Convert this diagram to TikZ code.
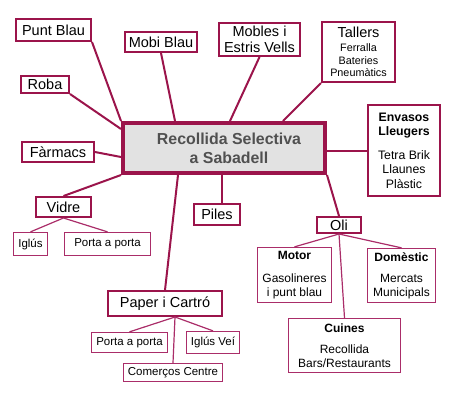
\documentclass[tikz,border=0pt]{standalone}
\usepackage{fontspec}
\setmainfont{Liberation Sans}
\usepackage{tikz}
\usetikzlibrary{calc}
\definecolor{mapred}{RGB}{155,20,75}
\definecolor{subred}{RGB}{170,45,105}
\definecolor{hubgray}{RGB}{226,226,226}
\definecolor{hubtext}{RGB}{80,80,80}
\tikzstyle{hub}=[draw=mapred,line width=4pt,fill=hubgray,text=hubtext,font=\fontsize{15.9}{19}\selectfont\bfseries,align=center,inner sep=0pt]
\tikzstyle{topic}=[draw=mapred,line width=2pt,fill=white,font=\fontsize{14.5}{16}\selectfont,align=center,inner sep=0pt]
\tikzstyle{leaf}=[draw=subred,line width=1.3pt,fill=white,font=\fontsize{11.5}{13.5}\selectfont,align=center,inner sep=0pt]
\tikzstyle{info}=[draw=subred,line width=1.3pt,fill=white,font=\fontsize{12}{13.5}\selectfont,align=center,inner sep=0pt]
\tikzstyle{trunk}=[draw=mapred,line width=2pt]
\tikzstyle{twig}=[draw=subred,line width=1.2pt]

\begin{document}
\begin{tikzpicture}[x=1pt,y=-1pt]
\useasboundingbox (0,0) rectangle (450,400);
\node[hub,minimum width=202,minimum height=50] (central) at (224,148) {\hspace*{10pt}Recollida Selectiva\\\hspace*{10pt}a Sabadell};
\node[topic,minimum width=75,minimum height=22] (punt) at (53.5,30) {Punt Blau};
\node[topic,minimum width=72,minimum height=20] (mobi) at (161,42) {Mobi Blau};
\node[topic,minimum width=81,minimum height=33] (mobles) at (259.5,39.5) {Mobles i\\Estris Vells};
\node[topic,minimum width=73,minimum height=60,font=\fontsize{10.8}{12.5}\selectfont] (tallers) at (358.5,52) {{\fontsize{14.5}{16}\selectfont Tallers}\\[2pt]Ferralla\\Bateries\\Pneumàtics};
\node[topic,minimum width=48,minimum height=17] (roba) at (45,84.5) {Roba};
\node[topic,minimum width=72,minimum height=20] (farmacs) at (58,152) {Fàrmacs};
\node[topic,minimum width=72,minimum height=91,font=\fontsize{12.3}{14.5}\selectfont] (envasos) at (404,150.5) {\textbf{Envasos}\\\textbf{Lleugers}\\[9pt]Tetra Brik\\Llaunes\\Plàstic};
\node[topic,minimum width=55,minimum height=20] (vidre) at (63.5,207) {Vidre};
\node[topic,minimum width=46,minimum height=21] (piles) at (217,214.5) {Piles};
\node[topic,minimum width=44,minimum height=16] (oli) at (339,225) {Oli};
\node[topic,minimum width=114,minimum height=25] (paper) at (165,303.5) {Paper i Cartró};
% vidre
\node[leaf,minimum width=34,minimum height=23] (vidre_iglus) at (30.5,244) {Iglús};
\node[leaf,minimum width=86,minimum height=23] (vidre_porta) at (107.5,244) {Porta a porta};
% paper i cartro
\node[leaf,minimum width=76,minimum height=20] (paper_porta) at (129.5,342.5) {Porta a porta};
\node[leaf,minimum width=53,minimum height=22] (paper_iglus) at (213,342.5) {Iglús Veí};
\node[leaf,minimum width=99,minimum height=18] (comercos) at (173,372.5) {Comerços Centre};
% oli
\node[info,minimum width=74,minimum height=55] (motor) at (294.5,275) {\textbf{Motor}\\[10pt]Gasolineres\\i punt blau};
\node[info,minimum width=68,minimum height=54] (domestic) at (401.5,275.5) {\textbf{Domèstic}\\[8pt]Mercats\\Municipals};
\node[info,minimum width=112,minimum height=54] (cuines) at (344.5,345.5) {\textbf{Cuines}\\[8pt]Recollida\\Bars/Restaurants};
% branques principals
\draw[trunk] (punt.south east) -- (central.north west);
\draw[trunk] (roba.south east) -- ([yshift=-8pt]central.north west);
\draw[trunk] (mobi.south) -- ([xshift=54pt]central.north west);
\draw[trunk] (farmacs.east) -- ([yshift=-9pt]central.west);
\draw[trunk] (vidre.north) -- (central.south west);
\draw[trunk] (mobles.south) -- ([xshift=109pt]central.north west);
\draw[trunk] (tallers.south west) -- ([xshift=162pt]central.north west);
\draw[trunk] (central.east |- envasos.west) -- (envasos.west);
\draw[trunk] (central.south east) -- (oli.north);
\draw[trunk] ([xshift=5pt]piles.north) -- ([xshift=5pt]piles.north |- central.south);
\draw[trunk] ([xshift=57pt]central.south west) -- (paper.north);
% branques secundaries
\draw[twig] (vidre.south) -- (vidre_iglus.north);
\draw[twig] (vidre.south) -- (vidre_porta.north);
\draw[twig] ([xshift=10pt]paper.south) -- (paper_porta.north);
\draw[twig] ([xshift=10pt]paper.south) -- (paper_iglus.north);
\draw[twig] ([xshift=10pt]paper.south) -- (comercos.north);
\draw[twig] (oli.south) -- (motor.north);
\draw[twig] (oli.south) -- (domestic.north);
\draw[twig] (oli.south) -- (cuines.north);
\end{tikzpicture}
\end{document}
